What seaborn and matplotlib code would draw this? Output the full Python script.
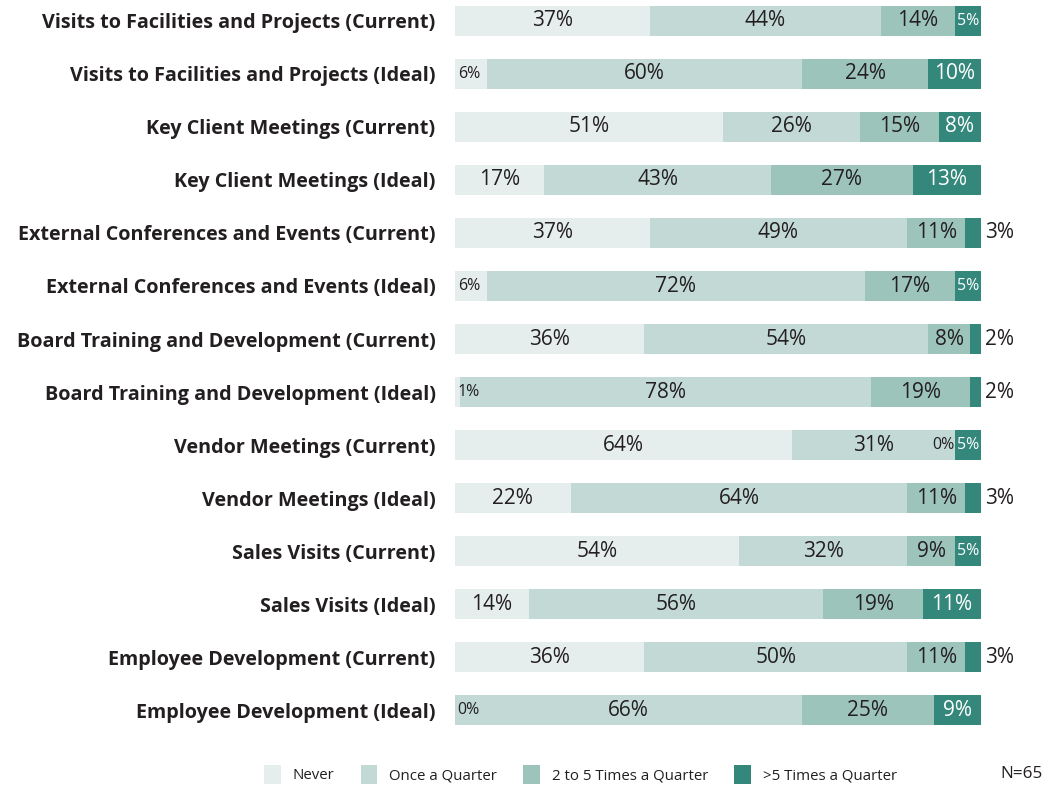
import numpy as np
import pandas as pd
import matplotlib.pyplot as plt
import seaborn as sns
from matplotlib.patches import Patch

# --- data ---
activities = [
    "Visits to Facilities and Projects (Current)",
    "Visits to Facilities and Projects (Ideal)",
    "Key Client Meetings (Current)",
    "Key Client Meetings (Ideal)",
    "External Conferences and Events (Current)",
    "External Conferences and Events (Ideal)",
    "Board Training and Development (Current)",
    "Board Training and Development (Ideal)",
    "Vendor Meetings (Current)",
    "Vendor Meetings (Ideal)",
    "Sales Visits (Current)",
    "Sales Visits (Ideal)",
    "Employee Development (Current)",
    "Employee Development (Ideal)",
]
never = [37, 6, 51, 17, 37, 6, 36, 1, 64, 22, 54, 14, 36, 0]
once_q = [44, 60, 26, 43, 49, 72, 54, 78, 31, 64, 32, 56, 50, 66]
two_five_q = [14, 24, 15, 27, 11, 17, 8, 19, 0, 11, 9, 19, 11, 25]
over_five_q = [5, 10, 8, 13, 3, 5, 2, 2, 5, 3, 5, 11, 3, 9]

series_names = ["Never", "Once a Quarter", "2 to 5 Times a Quarter", ">5 Times a Quarter"]
colors = ["#e6eded", "#c2d9d5", "#9dc4bb", "#33877b"]

df = pd.DataFrame({
    "activity": activities,
    "Never": never,
    "Once a Quarter": once_q,
    "2 to 5 Times a Quarter": two_five_q,
    ">5 Times a Quarter": over_five_q,
})

sns.set_theme(style="white")
plt.rcParams["font.family"] = ["Open Sans", "DejaVu Sans"]

fig = plt.figure(figsize=(10.44, 7.87), dpi=100)
ax = fig.add_axes([455 / 1044, 1 - 736 / 787, 526 / 1044, 735 / 787])

# stacked bars: draw cumulative totals back to front
cum = df[series_names].cumsum(axis=1)
for name, color in reversed(list(zip(series_names, colors))):
    sns.barplot(x=cum[name], y=df["activity"], orient="h", color=color,
                width=0.55, saturation=1, linewidth=0, ax=ax)

# value labels
text_dark = "#231f20"
big, small = 15, 11.5
for i, row in df.iterrows():
    left = 0
    for k, name in enumerate(series_names):
        v = row[name]
        right = left + v
        col = "white" if k == 3 else text_dark
        if k == 3 and v <= 3:
            ax.text(right + 0.8, i, f"{v}%", ha="left", va="center",
                    fontsize=big, color=text_dark)
        elif v <= 6:
            if k == 0:
                ax.text(left + 0.5, i, f"{v}%", ha="left", va="center",
                        fontsize=small, color=col)
            elif v == 0:
                ax.text(right, i, f"{v}%", ha="right", va="center",
                        fontsize=small, color=col)
            else:
                ax.text((left + right) / 2, i, f"{v}%", ha="center", va="center",
                        fontsize=small, color=col)
        else:
            ax.text((left + right) / 2, i, f"{v}%", ha="center", va="center",
                    fontsize=big, color=col)
        left = right

ax.set_xlim(0, 100)
ax.set_ylim(13.49, -0.377)
ax.set_xlabel("")
ax.set_ylabel("")
ax.set_xticks([])
ax.tick_params(axis="y", length=0, pad=14)
for lbl in ax.get_yticklabels():
    lbl.set_fontweight("bold")
    lbl.set_fontsize(14.2)
    lbl.set_color(text_dark)
sns.despine(ax=ax, left=True, bottom=True)

handles = [Patch(facecolor=c, edgecolor="none") for c in colors]
fig.legend(handles, series_names, loc="center", bbox_to_anchor=(0.556, 0.016),
           ncol=4, frameon=False, fontsize=10.8, handlelength=1.1,
           handleheight=1.5, handletextpad=0.8, columnspacing=1.75,
           labelcolor=text_dark)
fig.text(0.999, 0.016, "N=65", ha="right", va="center", fontsize=12.3, color=text_dark)

fig.savefig("out.png", dpi=100, facecolor="white")
